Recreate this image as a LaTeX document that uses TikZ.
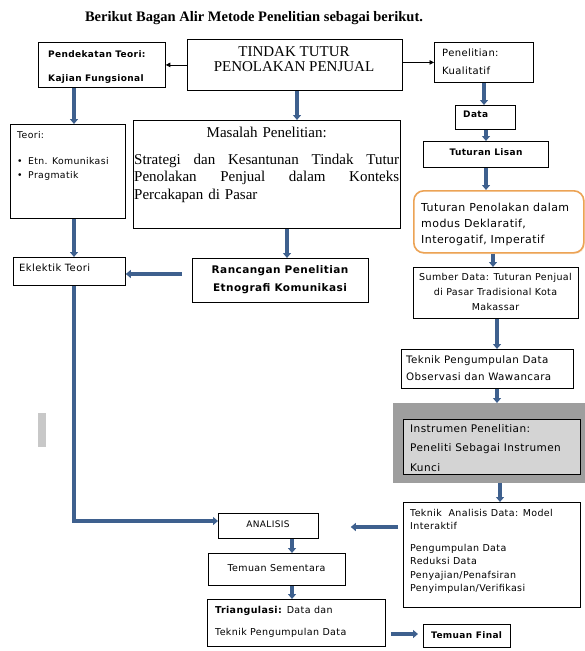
\documentclass[tikz,border=0pt]{standalone}
\usepackage{fontspec}
\setmainfont{Liberation Serif}
\newfontfamily\sansf[LetterSpace=4]{DejaVu Sans}
\usetikzlibrary{arrows.meta,shadows}
\definecolor{arrblue}{RGB}{62,96,142}
\definecolor{orng}{RGB}{236,163,85}
\definecolor{gout}{RGB}{158,158,158}
\definecolor{ginn}{RGB}{212,212,212}
\definecolor{gbarc}{RGB}{200,200,200}
\newcommand\fsz[2]{\fontsize{#1}{#2}\selectfont}
\newcommand\bx[6]{%
  \pgfmathsetmacro\bxw{#4-#2}\pgfmathsetmacro\bxh{#5-#3}%
  \node[boxst,minimum width=\bxw pt,minimum height=\bxh pt,anchor=north west,#6] (#1) at (#2,-#3) {};}
\begin{document}
\begin{tikzpicture}[x=1pt,y=1pt,
  boxst/.style={draw=black,line width=0.8pt,inner sep=0pt,fill=white},
  tx/.style={inner sep=0pt,anchor=north west,align=left,font=\sansf\fsz{10}{14}},
  txc/.style={inner sep=0pt,anchor=north,align=center,font=\sansf\fsz{10}{14}},
  barrow/.style={draw=arrblue,line width=3.2pt,-{Triangle[width=8pt,length=5pt]}},
  tarrow/.style={draw=black,line width=0.8pt,-{Triangle[width=4.5pt,length=4.5pt]}}]
\useasboundingbox[fill=white] (0,0) rectangle (585,-651);

% title
\node[font=\bfseries\fsz{14.5}{16}] (title) at (254,-18) {Berikut Bagan Alir Metode Penelitian sebagai berikut.};

% top row
\bx{pend}{38}{42}{165}{87}{}
\node[tx,font=\sansf\bfseries\fsz{9}{12}] (pendT) at (48,-50) {Pendekatan Teori:\\[12pt]Kajian Fungsional};
\bx{tindak}{187}{39}{402}{90}{}
\node[txc,font=\fsz{15}{15}] (tindakT) at (294,-46) {TINDAK TUTUR\\PENOLAKAN PENJUAL};
\bx{pen}{434}{42}{533}{82}{}
\node[tx] (penT) at (442,-49) {Penelitian:\\[4pt]Kualitatif};

% right column
\bx{data}{455}{105}{515}{129}{}
\node[tx,font=\sansf\bfseries\fsz{9}{11}] (dataT) at (463,-111) {Data};
\bx{lisan}{423}{141}{548}{167}{}
\node[txc,font=\sansf\bfseries\fsz{9}{11}] (lisanT) at (486,-148) {Tuturan Lisan};
\node[draw=orng,line width=1.6pt,rounded corners=10pt,fill=white,minimum width=170pt,minimum height=62pt,anchor=north west,inner sep=0pt,
  drop shadow={shadow xshift=1.2pt,shadow yshift=-1.2pt,opacity=0.35,fill=orng!60}] (tpen) at (413,-190) {};
\node[tx,font=\sansf\fsz{11}{16}] (tpenT) at (421,-203) {Tuturan Penolakan dalam\\modus Deklaratif,\\Interogatif, Imperatif};
\bx{sumber}{413}{267}{578}{318}{}
\node[txc,font=\sansf\fsz{9.5}{15}] (sumberT) at (495.5,-273) {Sumber Data: Tuturan Penjual\\di Pasar Tradisional Kota\\Makassar};
\bx{tpeng}{401}{349}{573}{388}{}
\node[tx,font=\sansf\fsz{10.3}{17}] (tpengT) at (406,-355) {Teknik Pengumpulan Data\\Observasi dan Wawancara};
\node[fill=gout,minimum width=192pt,minimum height=80pt,anchor=north west,inner sep=0pt] (grayo) at (393,-403) {};
\bx{inst}{403}{419}{580}{474}{fill=ginn}
\node[tx,font=\sansf\fsz{10.5}{19.5}] (instT) at (410,-424) {Instrumen Penelitian:\\Peneliti Sebagai Instrumen\\Kunci};
\bx{tana}{403}{502}{580}{607}{}
\node[tx,font=\sansf\fsz{9.5}{13.5}] (tanaT) at (410,-509) {Teknik\ \ Analisis Data: Model\\Interaktif\\[8pt]Pengumpulan Data\\Reduksi Data\\Penyajian/Penafsiran\\Penyimpulan/Verifikasi};

% bottom middle
\bx{analisis}{218}{513}{318}{538}{}
\node[txc,font=\sansf\fsz{9}{11}] (analisisT) at (268,-521) {ANALISIS};
\bx{temsem}{208}{553}{345}{585}{}
\node[txc,font=\sansf\fsz{9.5}{11}] (temsemT) at (276.5,-564) {Temuan Sementara};
\bx{tri}{207}{599}{385}{646}{}
\node[tx,font=\sansf\fsz{9.5}{12}] (triT) at (215,-606) {\textbf{Triangulasi:} Data dan\\[10pt]Teknik Pengumpulan Data};
\bx{final}{423}{624}{510}{647}{}
\node[tx,font=\sansf\bfseries\fsz{9}{11}] (finalT) at (431,-631) {Temuan Final};

% left / middle
\bx{teori}{10}{124}{125}{218}{}
\node[tx,font=\sansf\fsz{9.3}{14}] (teoriT) at (17,-131) {Teori:\\[12pt]\makebox[11pt][l]{\textbullet}Etn. Komunikasi\\\makebox[11pt][l]{\textbullet}Pragmatik};
\bx{masalah}{133}{120}{400}{228}{}
\node[inner sep=0pt,anchor=north west,text width=265pt,font=\fsz{15}{17.5}] (masT) at (134,-127) {%
  {\centering Masalah Penelitian:\par}\vspace{9pt}%
  \hbox to \hsize{Strategi\hfill dan\hfill Kesantunan\hfill Tindak\hfill Tutur}
  \hbox to \hsize{Penolakan\hfill Penjual\hfill dalam\hfill Konteks}
  \hbox to \hsize{Percakapan di Pasar\hfill}};
\bx{ekl}{13}{257}{125}{285}{}
\node[tx] (eklT) at (19,-264) {Eklektik Teori};
\bx{ranc}{192}{258}{368}{302}{}
\node[txc,font=\sansf\bfseries\fsz{10.5}{18}] (rancT) at (280,-265) {Rancangan Penelitian\\Etnografi Komunikasi};
\node[fill=gbarc,minimum width=8pt,minimum height=34pt,anchor=north west,inner sep=0pt] (gbar) at (38,-413) {};

% column coordinates
\coordinate (cL) at (74,0);
\coordinate (cM1) at (297,0);
\coordinate (cM2) at (287,0);
\coordinate (cM3) at (292,0);
\coordinate (cR1) at (484,0);
\coordinate (cR2) at (486,0);
\coordinate (cR3) at (493,0);
\coordinate (cR4) at (497,0);
\coordinate (cR5) at (500,0);
\coordinate (yE) at (0,-274);
\coordinate (yA) at (0,-521);
\coordinate (yB) at (0,-527);
\coordinate (yF) at (0,-634);

% connectors
\draw[tarrow] (tindak.west) -- (pend.east);
\draw[tarrow] (tindak.east |- pen.west) -- (pen.west);
\draw[barrow] (tindak.south -| cM1) -- (masalah.north -| cM1);
\draw[barrow] (pend.south -| cL) -- (teori.north -| cL);
\draw[barrow] (teori.south -| cL) -- (ekl.north -| cL);
\draw[barrow] (masalah.south -| cM2) -- (ranc.north -| cM2);
\draw[barrow,shorten <=10pt] (ranc.west |- yE) -- (ekl.east |- yE);
\draw[barrow] (ekl.south -| cL) -- (cL |- yA) -- (analisis.west |- yA);
\draw[barrow] (pen.south -| cR1) -- (data.north -| cR1);
\draw[barrow] (data.south -| cR2) -- (lisan.north -| cR2);
\draw[barrow] (lisan.south -| cR2) -- (tpen.north -| cR2);
\draw[barrow] (tpen.south -| cR3) -- (sumber.north -| cR3);
\draw[barrow] (sumber.south -| cR4) -- (tpeng.north -| cR4);
\draw[barrow] (tpeng.south -| cR4) -- (grayo.north -| cR4);
\draw[barrow] (grayo.south -| cR5) -- (tana.north -| cR5);
\draw[barrow,shorten <=5pt,shorten >=32pt] (tana.west |- yB) -- (analisis.east |- yB);
\draw[barrow] (analisis.south -| cM3) -- (temsem.north -| cM3);
\draw[barrow] (temsem.south -| cM3) -- (tri.north -| cM3);
\draw[barrow,shorten <=5pt,shorten >=5pt] (tri.east |- yF) -- (final.west |- yF);
\end{tikzpicture}
\end{document}
